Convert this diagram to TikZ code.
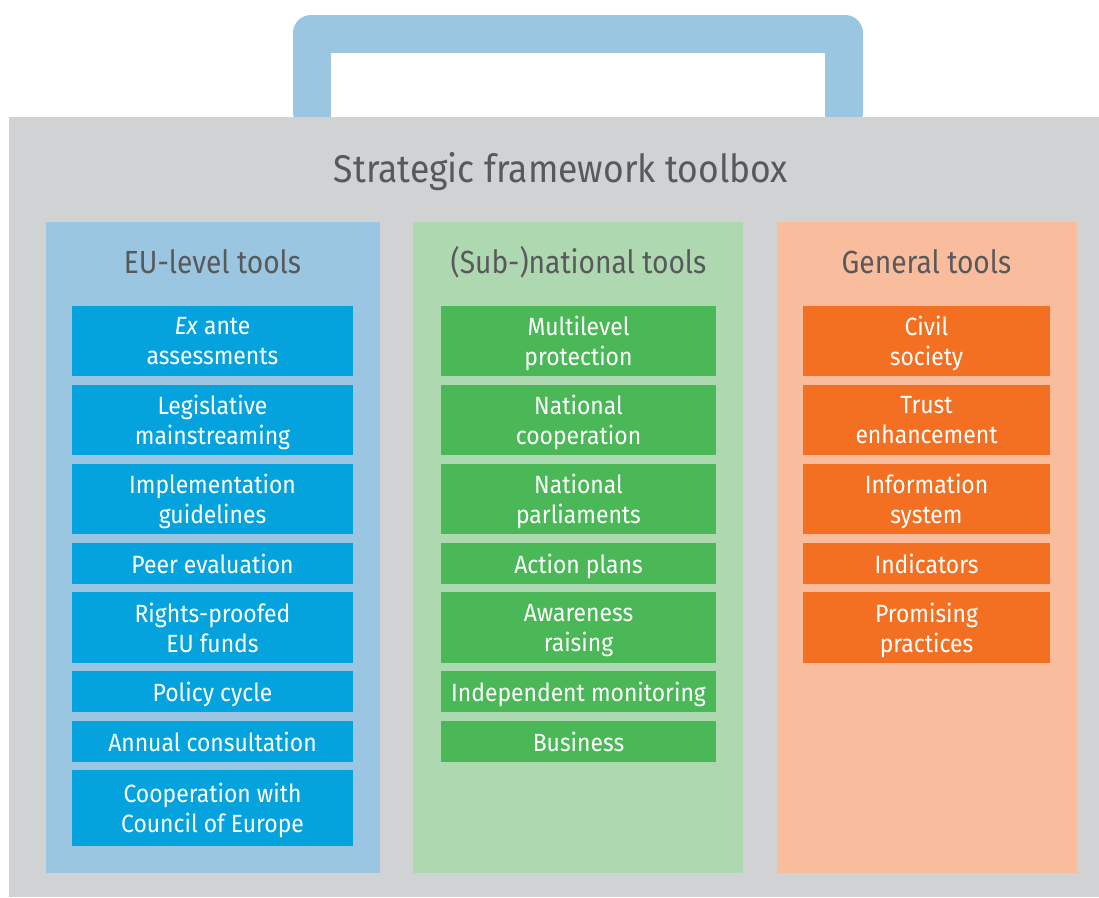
\documentclass[tikz,border=0pt]{standalone}
\usepackage{fontspec}
\setmainfont{Fira Sans}[FakeStretch=0.92]
\newfontfamily\headfont{Fira Sans}[FakeStretch=0.88]
\definecolor{greybg}{HTML}{D1D2D4}
\definecolor{handleblue}{HTML}{9AC6E2}
\definecolor{colblue}{HTML}{9AC6E2}
\definecolor{boxblue}{HTML}{05A3DD}
\definecolor{colgreen}{HTML}{AED8B0}
\definecolor{boxgreen}{HTML}{4BB858}
\definecolor{colorange}{HTML}{F9BD9E}
\definecolor{boxorange}{HTML}{F37022}
\definecolor{darktext}{HTML}{58595B}
\tikzset{
  titletext/.style={text=darktext, font=\fontsize{38.6}{44}\selectfont, inner sep=0pt, text depth=0pt},
  headtext/.style={text=darktext, font=\headfont\fontsize{32}{38}\selectfont, inner sep=0pt},
  column/.style={inner sep=0pt, minimum width=#1, minimum height=651pt},
  toolbox/.style={inner sep=0pt, text=white, align=center, text depth=0pt, font=\fontsize{24.9}{30}\selectfont},
  bluebox/.style={toolbox, fill=boxblue, minimum width=281pt},
  greenbox/.style={toolbox, fill=boxgreen, minimum width=275pt},
  orangebox/.style={toolbox, fill=boxorange, minimum width=247pt},
}
\begin{document}
\begin{tikzpicture}[x=1pt,y=-1pt]
\useasboundingbox (0,0) rectangle (1099,897);
% handle
\fill[handleblue, rounded corners=18pt] (293,130) -- (293,15) -- (863,15) -- (863,130) -- cycle;
\fill[white] (331,53) rectangle (825,118);
% toolbox body
\fill[greybg] (9,117) rectangle (1099,897);
\node[titletext] (title) at (561,167) {Strategic framework toolbox};
% columns
\node[column=334pt, fill=colblue] (eucol) at (213,547.5) {};
\node[column=330pt, fill=colgreen] (natcol) at (578,547.5) {};
\node[column=300pt, fill=colorange] (gencol) at (927,547.5) {};
\node[headtext] (euhead) at (212.5,262) {EU-level tools};
\node[headtext] (nathead) at (578.5,262) {(Sub-)national tools};
\node[headtext] (genhead) at (926.5,262) {General tools};
% EU-level tools
\node[bluebox, minimum height=70pt] (eu1) at (212.5,341) {\textit{Ex} ante\\assessments};
\node[bluebox, minimum height=70pt] (eu2) at (212.5,420) {Legislative\\mainstreaming};
\node[bluebox, minimum height=70pt] (eu3) at (212.5,499) {Implementation\\guidelines};
\node[bluebox, minimum height=41pt] (eu4) at (212.5,563.5) {Peer evaluation};
\node[bluebox, minimum height=71pt] (eu5) at (212.5,627.5) {Rights-proofed\\EU funds};
\node[bluebox, minimum height=41pt] (eu6) at (212.5,691.5) {Policy cycle};
\node[bluebox, minimum height=41pt] (eu7) at (212.5,741.5) {Annual consultation};
\node[bluebox, minimum height=76pt] (eu8) at (212.5,808) {Cooperation with\\Council of Europe};
% (Sub-)national tools
\node[greenbox, minimum height=70pt] (nat1) at (578.5,341) {Multilevel\\protection};
\node[greenbox, minimum height=70pt] (nat2) at (578.5,420) {National\\cooperation};
\node[greenbox, minimum height=70pt] (nat3) at (578.5,499) {National\\parliaments};
\node[greenbox, minimum height=41pt] (nat4) at (578.5,563.5) {Action plans};
\node[greenbox, minimum height=71pt] (nat5) at (578.5,627.5) {Awareness\\raising};
\node[greenbox, minimum height=41pt] (nat6) at (578.5,691.5) {Independent monitoring};
\node[greenbox, minimum height=41pt] (nat7) at (578.5,741.5) {Business};
% General tools
\node[orangebox, minimum height=70pt] (gen1) at (926.5,341) {Civil\\society};
\node[orangebox, minimum height=70pt] (gen2) at (926.5,420) {Trust\\enhancement};
\node[orangebox, minimum height=70pt] (gen3) at (926.5,499) {Information\\system};
\node[orangebox, minimum height=41pt] (gen4) at (926.5,563.5) {Indicators};
\node[orangebox, minimum height=71pt] (gen5) at (926.5,627.5) {Promising\\practices};
\end{tikzpicture}
\end{document}
